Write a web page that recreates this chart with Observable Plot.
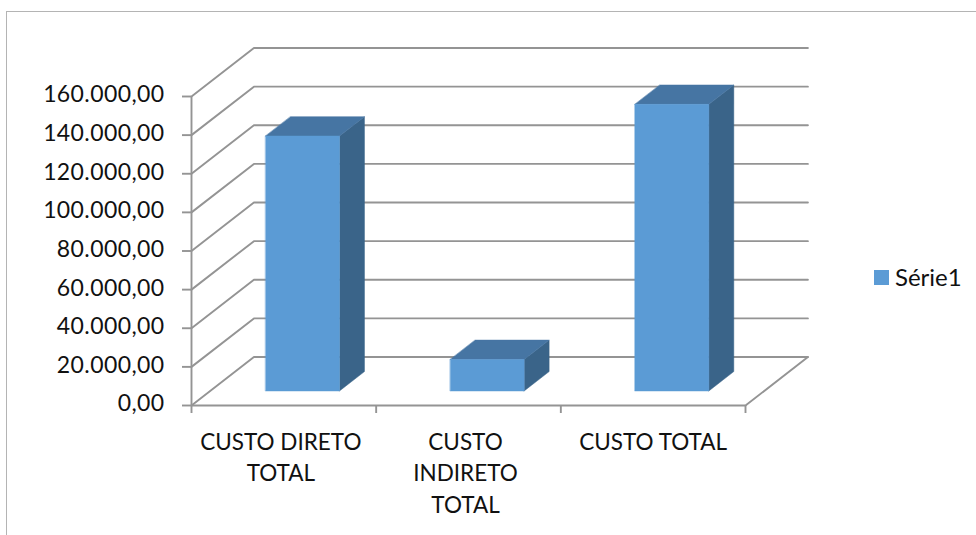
<!DOCTYPE html>
<html lang="pt">
<head>
<meta charset="utf-8">
<script src="https://cdn.jsdelivr.net/npm/d3@7"></script>
<script src="https://cdn.jsdelivr.net/npm/@observablehq/plot@0.6"></script>
<style>
  html, body { margin: 0; padding: 0; background: #fff; }
  #chart { position: relative; width: 976px; height: 535px; overflow: hidden; font-family: Lato, sans-serif; }
  #chart svg { position: absolute; left: 0; top: 0; }
  #chart svg g[aria-label="y-axis tick label"] { letter-spacing: 0.4px; }
  #border { position: absolute; left: 6px; top: 11px; right: 0; bottom: 0; border-left: 1.5px solid #b4b4b4; border-top: 1.5px solid #b4b4b4; }
  #legend { position: absolute; left: 874px; top: 263px; display: flex; align-items: center; gap: 6px; font-size: 24px; color: #111; line-height: 28px; }
  #legend i { display: block; width: 15px; height: 15px; background: #5b9bd5; }
</style>
</head>
<body>
<div id="chart">
  <div id="border"></div>
  <div id="legend"><i></i><span>Série1</span></div>
</div>
<script>
// Chart data
const categories = ["CUSTO DIRETO\nTOTAL", "CUSTO\nINDIRETO\nTOTAL", "CUSTO TOTAL"];
const values = [132000, 16300, 148400];
const yTicks = [0, 20000, 40000, 60000, 80000, 100000, 120000, 140000, 160000];
const xBoundaries = [0, 1, 2, 3];

// Oblique projection: a point at depth d (0 = front, 1 = back wall) is shifted
// right and upward, both expressed in the units of the x and y scales.
const depthX = 0.338;
const depthY = 25100;
const project = (c, v, d) => ({x: c + d * depthX, y: v + d * depthY});

const formatValue = d3.formatLocale({decimal: ",", thousands: ".", grouping: [3], currency: ["", ""]}).format(",.2f");

const gridColor = "#949494";
const gridWidth = 1.9;

// Wall lines: up the side wall, then along the back wall.
const gridLines = yTicks.flatMap((v) =>
  [[0, 0], [0, 1], [3, 1]].map(([c, d]) => ({...project(c, v, d), v}))
);
// Right edge of the floor.
const floorEdge = [project(3, 0, 0), project(3, 0, 1)];

// Each column has a front, a top and a side face.
const barStart = 0.3, barEnd = 0.7, depthStart = 0.3, depthEnd = 0.7;
const face = (corners) => (v, i) => corners(v, i).map(([c, val, d]) => ({...project(c, val, d), bar: i}));
const frontFaces = values.flatMap(face((v, i) => [
  [i + barStart, 0, depthStart], [i + barEnd, 0, depthStart], [i + barEnd, v, depthStart], [i + barStart, v, depthStart]
]));
const topFaces = values.flatMap(face((v, i) => [
  [i + barStart, v, depthStart], [i + barEnd, v, depthStart], [i + barEnd, v, depthEnd], [i + barStart, v, depthEnd]
]));
const sideFaces = values.flatMap(face((v, i) => [
  [i + barEnd, 0, depthStart], [i + barEnd, 0, depthEnd], [i + barEnd, v, depthEnd], [i + barEnd, v, depthStart]
]));

const faceMark = (rows, fill) => Plot.line(rows, {x: "x", y: "y", z: "bar", fill, stroke: fill, strokeWidth: 0.5, curve: "linear-closed"});

// Category labels; the wrapped ones sit slightly left of their band centre.
const categoryLabels = (filter, dx) => Plot.text(categories, {
  filter,
  x: (d, i) => i + 0.5,
  y: () => 0,
  text: (d) => d,
  dx,
  dy: 22,
  fontSize: 22.5,
  lineAnchor: "top",
  lineHeight: 1.4,
  fill: "#111"
});

const plot = Plot.plot({
  width: 976,
  height: 535,
  marginLeft: 191,
  marginRight: 231,
  marginTop: 96,
  marginBottom: 130,
  style: {fontFamily: "Lato, sans-serif", fontSize: "23px", color: "#111", background: "transparent"},
  x: {type: "linear", domain: [0, 3]},
  y: {type: "linear", domain: [0, 160000]},
  marks: [
    Plot.line(gridLines, {x: "x", y: "y", z: "v", stroke: gridColor, strokeWidth: gridWidth}),
    Plot.line(floorEdge, {x: "x", y: "y", stroke: gridColor, strokeWidth: gridWidth}),
    Plot.ruleX([0], {stroke: gridColor, strokeWidth: gridWidth}),
    Plot.ruleY([0], {stroke: gridColor, strokeWidth: gridWidth}),
    faceMark(sideFaces, "#3a6489"),
    faceMark(topFaces, "#4675a3"),
    faceMark(frontFaces, "#5b9bd5"),
    Plot.axisY({ticks: yTicks, tickSize: 9, tickFormat: () => "", stroke: gridColor, strokeWidth: gridWidth, label: null}),
    Plot.axisY({ticks: yTicks, tickSize: 0, tickPadding: 27, dy: -1.5, tickFormat: formatValue, label: null}),
    Plot.axisX({ticks: xBoundaries, tickSize: 8, tickFormat: () => "", stroke: gridColor, strokeWidth: gridWidth, label: null}),
    categoryLabels((d) => d.includes("\n"), -3),
    categoryLabels((d) => !d.includes("\n"), 0)
  ]
});
document.getElementById("chart").appendChild(plot);
</script>
</body>
</html>
